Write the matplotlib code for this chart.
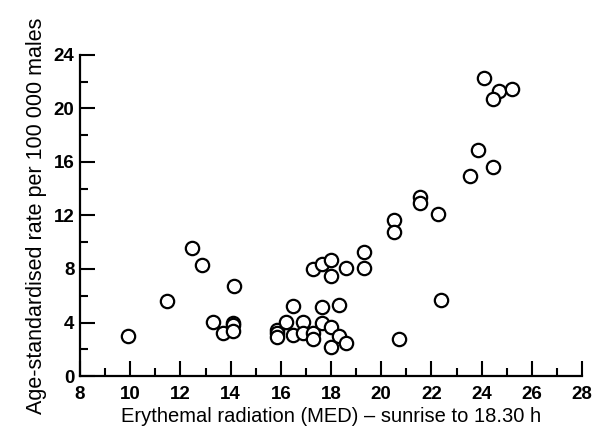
import matplotlib
matplotlib.use("Agg")
import matplotlib.pyplot as plt
from matplotlib.ticker import MultipleLocator

# Erythemal radiation (MED) and age-standardised rate per 100 000 males
radiation = [9.9, 11.45, 12.45, 12.85, 14.15, 13.3, 13.7, 14.1, 14.1, 14.1,
             15.85, 15.85, 15.85, 16.2, 16.5, 16.5, 16.9, 16.9,
             17.3, 17.3, 17.3, 17.65, 17.65, 17.65,
             18.0, 18.0, 18.0, 18.0, 18.3, 18.3, 18.6, 18.6,
             19.3, 19.3, 20.5, 20.5, 20.7, 21.55, 21.55, 22.25, 22.4,
             23.55, 23.85, 24.45, 24.1, 24.7, 24.45, 25.2]
rate = [3.0, 5.6, 9.6, 8.3, 6.75, 4.05, 3.25, 4.0, 3.8, 3.4,
        3.45, 3.2, 2.95, 4.05, 5.25, 3.05, 4.05, 3.25,
        8.0, 3.2, 2.8, 8.4, 5.15, 3.95,
        8.7, 7.45, 3.65, 2.2, 5.3, 3.0, 8.05, 2.5,
        9.3, 8.1, 11.65, 10.8, 2.75, 13.35, 12.9, 12.1, 5.65,
        14.95, 16.9, 15.65, 22.3, 21.3, 20.7, 21.45]

x_ticks = [8, 10, 12, 14, 16, 18, 20, 22, 24, 26, 28]
y_ticks = [0, 4, 8, 12, 16, 20, 24]

plt.rcParams['font.family'] = ['Liberation Sans', 'DejaVu Sans']

fig = plt.figure(figsize=(5.93, 4.36), dpi=100)
ax = fig.add_axes([0.1349, 0.1376, 0.8466, 0.7363])

ax.plot(radiation, rate, linestyle='none', marker='o', markersize=9.6,
        markerfacecolor='white', markeredgecolor='black', markeredgewidth=1.6,
        clip_on=False)

ax.set_xlim(8, 28)
ax.set_ylim(0, 24)
ax.set_xticks(x_ticks)
ax.set_yticks(y_ticks)
ax.xaxis.set_minor_locator(MultipleLocator(1))
ax.yaxis.set_minor_locator(MultipleLocator(2))

for s in ['top', 'right']:
    ax.spines[s].set_visible(False)
for s in ['left', 'bottom']:
    ax.spines[s].set_linewidth(1.6)

ax.tick_params(axis='both', which='major', direction='in', length=11, width=1.5,
               labelsize=13.5, pad=4)
ax.tick_params(axis='both', which='minor', direction='in', length=5.5, width=1.5)
ax.tick_params(axis='x', which='major', pad=7)
for lab in ax.get_xticklabels() + ax.get_yticklabels():
    lab.set_fontweight('bold')

ax.set_xlabel('Erythemal radiation (MED) – sunrise to 18.30 h', fontsize=14.5, labelpad=3)
ax.set_ylabel('Age-standardised rate per 100 000 males', fontsize=15.5, labelpad=5)

fig.savefig('out.png', dpi=100)
